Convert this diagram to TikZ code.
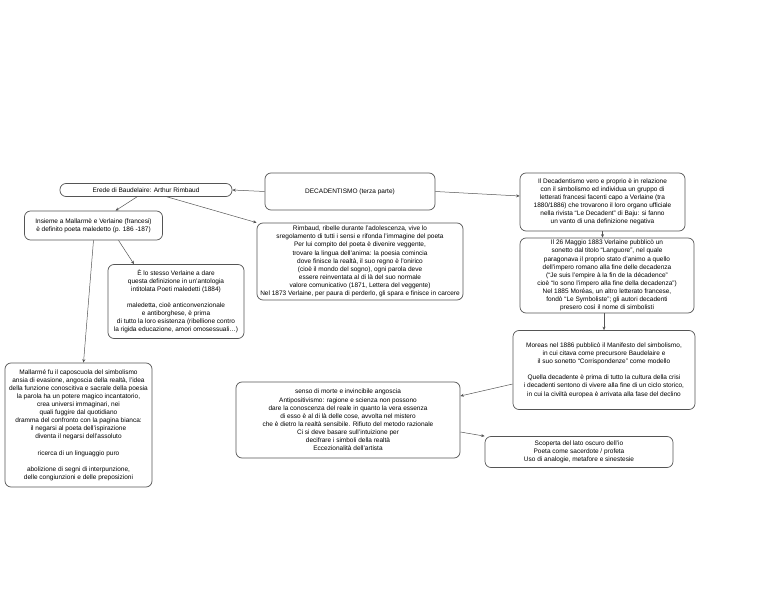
\documentclass[tikz,border=0pt]{standalone}
\usepackage{fontspec}
\setmainfont{Liberation Sans}
\usepackage{xcolor}
\usetikzlibrary{arrows.meta, positioning, calc}
\definecolor{border}{RGB}{85, 85, 85}
\tikzstyle{box} = [rectangle, rounded corners=6pt, draw=border, line width=0.7pt, fill=white, align=center, inner sep=2pt, font=\fontsize{6.5}{8.1}\selectfont]
\tikzstyle{arrow} = [line width=0.5pt, -{Stealth[length=3.5pt, width=3pt]}, color=border]

\begin{document}
\begin{tikzpicture}[x=1pt, y=-1pt]
    \useasboundingbox (0,0) rectangle (768,593);
    % Top row
    \node (erede) [box, minimum width=172pt, minimum height=13pt] at (146,190) {Erede di Baudelaire: Arthur Rimbaud};
    \node (decad) [box, minimum width=170pt, minimum height=37pt] at (350,191.5) {DECADENTISMO (terza parte)};
    \node (vero) [box, minimum width=165pt, minimum height=58pt] at (602.5,202) {Il Decadentismo vero e proprio è in relazione\\con il simbolismo ed individua un gruppo di\\letterati francesi facenti capo a Verlaine (tra\\1880/1886) che trovarono il loro organo ufficiale\\nella rivista “Le Decadent” di Baju: si fanno\\un vanto di una definizione negativa};

    % Left branch
    \node (insieme) [box, minimum width=138pt, minimum height=29pt] at (93.5,225.5) {Insieme a Mallarmè e Verlaine (francesi)\\è definito poeta maledetto (p. 186 -187)};
    \node (verlaine) [box, minimum width=136pt, minimum height=74pt] at (176,301.5) {È lo stesso Verlaine a dare\\questa definizione in un’antologia\\intitolata Poeti maledetti (1884)\\[8.1pt]maledetta, cioè anticonvenzionale\\e antiborghese, è prima\\di tutto la loro esistenza (ribellione contro\\la rigida educazione, amori omosessuali…)};
    \node (mallarme) [box, minimum width=147pt, minimum height=124pt] at (78.5,425) {Mallarmé fu il caposcuola del simbolismo\\ansia di evasione, angoscia della realtà, l’idea\\della funzione conoscitiva e sacrale della poesia\\la parola ha un potere magico incantatorio,\\crea universi immaginari, nei\\quali fuggire dal quotidiano\\dramma del confronto con la pagina bianca:\\il negarsi al poeta dell’ispirazione\\diventa il negarsi dell’assoluto\\[8.1pt]ricerca di un linguaggio puro\\[8.1pt]abolizione di segni di interpunzione,\\delle congiunzioni e delle preposizioni};

    % Middle
    \node (rimbaud) [box, minimum width=206pt, minimum height=77pt] at (360,261.5) {Rimbaud, ribelle durante l’adolescenza, vive lo\\sregolamento di tutti i sensi e rifonda l’immagine del poeta\\Per lui compito del poeta è divenire veggente,\\trovare la lingua dell’anima: la poesia comincia\\dove finisce la realtà, il suo regno è l’onirico\\(cioè il mondo del sogno), ogni parola deve\\essere reinventata al di là del suo normale\\valore comunicativo (1871, Lettera del veggente)\\Nel 1873 Verlaine, per paura di perderlo, gli spara e finisce in carcere};
    \node (senso) [box, minimum width=224pt, minimum height=76pt] at (348,420) {senso di morte e invincibile angoscia\\Antipositivismo: ragione e scienza non possono\\dare la conoscenza del reale in quanto la vera essenza\\di esso è al di là delle cose, avvolta nel mistero\\che è dietro la realtà sensibile. Rifiuto del metodo razionale\\Ci si deve basare sull’intuizione per\\decifrare i simboli della realtà\\Eccezionalità dell’artista};

    % Right column
    \node (maggio) [box, minimum width=174pt, minimum height=75pt] at (607,275.5) {Il 26 Maggio 1883 Verlaine pubblicò un\\sonetto dal titolo “Languore”, nel quale\\paragonava il proprio stato d’animo a quello\\dell’impero romano alla fine delle decadenza\\(“Je suis l’empire à la fin de la décadence”\\cioè “Io sono l’impero alla fine della decadenza”)\\Nel 1885 Moréas, un altro letterato francese,\\fondò “Le Symboliste”; gli autori decadenti\\presero così il nome di simbolisti};
    \node (moreas) [box, minimum width=182pt, minimum height=79pt] at (604,370) {Moreas nel 1886 pubblicò il Manifesto del simbolismo,\\in cui citava come precursore Baudelaire e\\il suo sonetto “Corrispondenze” come modello\\[8.1pt]Quella decadente è prima di tutto la cultura della crisi\\i decadenti sentono di vivere alla fine di un ciclo storico,\\in cui la civiltà europea è arrivata alla fase del declino};
    \node (scoperta) [box, minimum width=188pt, minimum height=31pt] at (579,452) {Scoperta del lato oscuro dell’io\\Poeta come sacerdote / profeta\\Uso di analogie, metafore e sinestesie};

    % Arrows
    \draw [arrow] (decad.west) -- (erede.east);
    \draw [arrow] (decad.east) -- ([yshift=6pt]vero.west);
    \draw [arrow] ([xshift=-9pt]erede.south) -- ([xshift=22pt]insieme.north);
    \draw [arrow] ([xshift=21pt]erede.south) -- (rimbaud.north west);
    \draw [arrow] ([xshift=25pt]insieme.south) -- ([xshift=-42pt]verlaine.north);
    \draw [arrow] (insieme.south) -- ([xshift=5pt]mallarme.north);
    \draw [arrow] (vero.south) -- (vero.south |- maggio.north);
    \draw [arrow] (moreas.north |- maggio.south) -- (moreas.north);
    \draw [arrow] ([yshift=-14pt]moreas.west) -- ([yshift=24pt]senso.east);
    \draw [arrow] ([yshift=-12pt]senso.east) -- (scoperta.north west);
\end{tikzpicture}
\end{document}
